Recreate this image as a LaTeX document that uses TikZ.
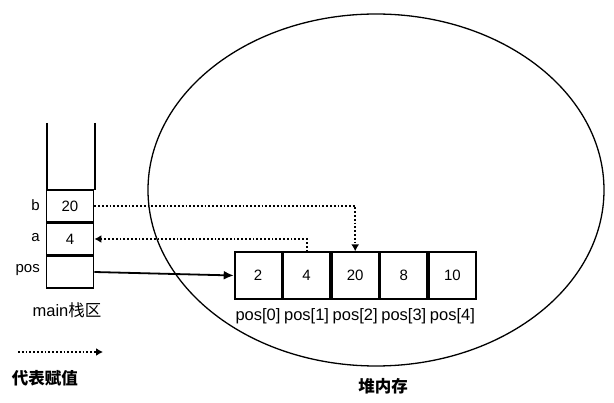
\documentclass[tikz,border=0pt]{standalone}
\usepackage{fontspec}
\setmainfont{Liberation Sans}
\newfontfamily\cjk{Noto Sans CJK SC}
\usetikzlibrary{arrows.meta}
\begin{document}
\begin{tikzpicture}[x=1pt,y=-1pt,
  cell/.style={draw,line width=1.8pt,minimum width=47pt,minimum height=31.5pt,inner sep=0pt,font=\fontsize{15}{15}\selectfont},
  arr/.style={draw,line width=1.8pt,minimum width=46.8pt,minimum height=46.5pt,inner sep=0pt,font=\fontsize{15}{15}\selectfont},
  lbl/.style={font=\fontsize{15}{15}\selectfont,inner sep=0pt},
  idx/.style={font=\fontsize{16.5}{16.5}\selectfont,inner sep=0pt},
  assign/.style={line width=1.8pt,dotted,-{Latex[length=7pt,width=8pt]}},
  ptr/.style={line width=1.8pt,-{Latex[length=10pt,width=9pt]}}]
\useasboundingbox[fill=white] (0,0) rectangle (614,403);
% heap ellipse
\draw[line width=1.3pt] (376,190) ellipse [x radius=228, y radius=176];
% stack
\draw[line width=1.8pt] (47,123) -- (47,190);
\draw[line width=1.8pt] (95,123) -- (95,190);
\node[cell] (b) at (70,206) {20};
\node[cell] (a) at (70,239) {4};
\node[cell] (p) at (70,272) {};
\node[lbl,anchor=east] (lb) at (40,205) {b};
\node[lbl,anchor=east] (la) at (40,238) {a};
\node[lbl,anchor=east] (lp) at (40,270) {pos};
\node[idx] (main) at (67,310) {main{\cjk 栈区}};
% array
\node[arr] (c0) at (258,275.5) {2};
\node[arr,anchor=west] (c1) at (c0.east) {4};
\node[arr,anchor=west] (c2) at (c1.east) {20};
\node[arr,anchor=west] (c3) at (c2.east) {8};
\node[arr,anchor=west] (c4) at (c3.east) {10};
\foreach \i in {0,...,4}{
  \node[idx,anchor=north,yshift=-9pt] (l\i) at (c\i.south) {pos[\i]};
}
% connectors
\draw[ptr] (p.east) -- (c0.west);
\draw[assign] (b.east) -| (c2.north);
\draw[assign] (c1.north) |- (a.east);
% legend
\coordinate (ls) at (18,352);
\coordinate (le) at (103,352);
\draw[assign] (ls) -- (le);
\node[idx] (leg) at (45,378) {\cjk\bfseries 代表赋值};
\node[idx] (heap) at (383,386) {\cjk\bfseries 堆内存};
\end{tikzpicture}
\end{document}
